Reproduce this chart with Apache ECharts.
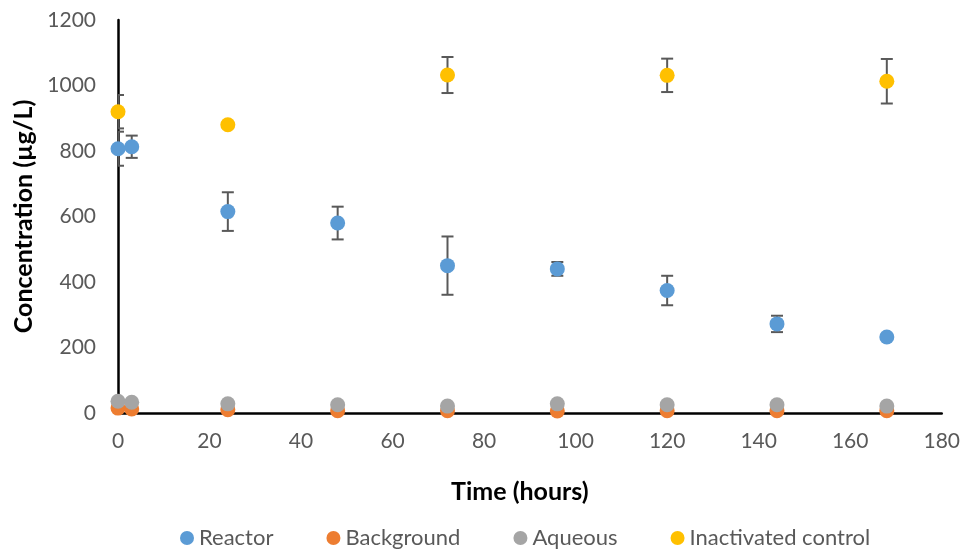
<!DOCTYPE html>
<html>
<head>
<meta charset="utf-8">
<script src="https://cdn.jsdelivr.net/npm/echarts@6/dist/echarts.min.js"></script>
<style>
  html, body { margin: 0; padding: 0; background: #ffffff; }
  #chart { width: 963px; height: 551px; }
</style>
</head>
<body>
<div id="chart"></div>
<script>
// Sampling times (hours)
var times = [0, 3, 24, 48, 72, 96, 120, 144, 168];
var controlTimes = [0, 24, 72, 120, 168];

// Concentrations (µg/L) and standard deviations
var reactor = [807, 813, 615, 580, 450, 440, 374, 272, 232];
var reactorErr = [52, 34, 59, 50, 89, 21, 45, 25, 8];
var background = [15, 12, 10, 7, 7, 6, 7, 7, 7];
var aqueous = [36, 33, 28, 25, 21, 28, 25, 25, 21];
var control = [920, 880, 1032, 1031, 1013];
var controlErr = [51, 8, 55, 51, 68];

var seriesNames = ['Reactor', 'Background', 'Aqueous', 'Inactivated control'];
var xTicks = { min: 0, max: 180, interval: 20 };
var yTicks = { min: 0, max: 1200, interval: 200 };

var FONT = 'Lato';
var colors = ['#5B9BD5', '#ED7D31', '#A5A5A5', '#FFC000'];

function pairs(xs, ys) {
  return xs.map(function (x, i) { return [x, ys[i]]; });
}
function errRows(xs, ys, es) {
  return xs.map(function (x, i) { return [x, ys[i] - es[i], ys[i] + es[i]]; });
}

// Vertical error bar with caps, in data coordinates
function renderErr(params, api) {
  var x = api.value(0);
  var lo = api.coord([x, api.value(1)]);
  var hi = api.coord([x, api.value(2)]);
  var half = 6;
  var style = { stroke: '#595959', lineWidth: 2 };
  return {
    type: 'group',
    children: [
      { type: 'line', shape: { x1: lo[0], y1: lo[1], x2: hi[0], y2: hi[1] }, style: style },
      { type: 'line', shape: { x1: lo[0] - half, y1: lo[1], x2: lo[0] + half, y2: lo[1] }, style: style },
      { type: 'line', shape: { x1: hi[0] - half, y1: hi[1], x2: hi[0] + half, y2: hi[1] }, style: style }
    ]
  };
}

function scatter(name, data, color) {
  return {
    name: name, type: 'scatter', data: data, symbol: 'circle', symbolSize: 15,
    itemStyle: { color: color, opacity: 1 }, z: 3, clip: false,
    emphasis: { disabled: true }
  };
}

function plain(v) { return String(v); }

var chart = echarts.init(document.getElementById('chart'), null, { renderer: 'canvas' });
chart.setOption({
  animation: false,
  backgroundColor: '#ffffff',
  textStyle: { fontFamily: FONT },
  grid: { left: 118, right: 20, top: 20, bottom: 138, containLabel: false },
  legend: {
    data: seriesNames,
    left: 175, top: 522,
    icon: 'circle', itemWidth: 14, itemHeight: 14, itemGap: 53,
    textStyle: { fontFamily: FONT, fontSize: 22, color: '#595959' }
  },
  xAxis: {
    type: 'value', min: xTicks.min, max: xTicks.max, interval: xTicks.interval,
    name: 'Time (hours)', nameLocation: 'middle', nameGap: 66,
    nameTextStyle: { fontFamily: FONT, fontSize: 25, fontWeight: 'bold', color: '#000000',
      padding: [0, 20, 0, 0] },
    axisLine: { show: true, onZero: false, lineStyle: { color: '#000000', width: 2.5 } },
    axisTick: { show: false },
    splitLine: { show: false },
    axisLabel: { fontFamily: FONT, fontSize: 21, color: '#595959', margin: 18, formatter: plain }
  },
  yAxis: {
    type: 'value', min: yTicks.min, max: yTicks.max, interval: yTicks.interval,
    name: 'Concentration (µg/L)', nameLocation: 'middle', nameGap: 76,
    nameTextStyle: { fontFamily: FONT, fontSize: 25, fontWeight: 'bold', color: '#000000' },
    axisLine: { show: true, onZero: false, lineStyle: { color: '#000000', width: 2.5 } },
    axisTick: { show: false },
    splitLine: { show: false },
    axisLabel: { fontFamily: FONT, fontSize: 21, color: '#595959', margin: 22, formatter: plain }
  },
  series: [
    { name: 'Reactor SD', type: 'custom', renderItem: renderErr, clip: true, z: 2,
      data: errRows(times, reactor, reactorErr), encode: { x: 0, y: [1, 2] } },
    { name: 'Inactivated control SD', type: 'custom', renderItem: renderErr, clip: true, z: 2,
      data: errRows(controlTimes, control, controlErr), encode: { x: 0, y: [1, 2] } },
    scatter(seriesNames[0], pairs(times, reactor), colors[0]),
    scatter(seriesNames[1], pairs(times, background), colors[1]),
    scatter(seriesNames[2], pairs(times, aqueous), colors[2]),
    scatter(seriesNames[3], pairs(controlTimes, control), colors[3])
  ]
});
</script>
</body>
</html>
